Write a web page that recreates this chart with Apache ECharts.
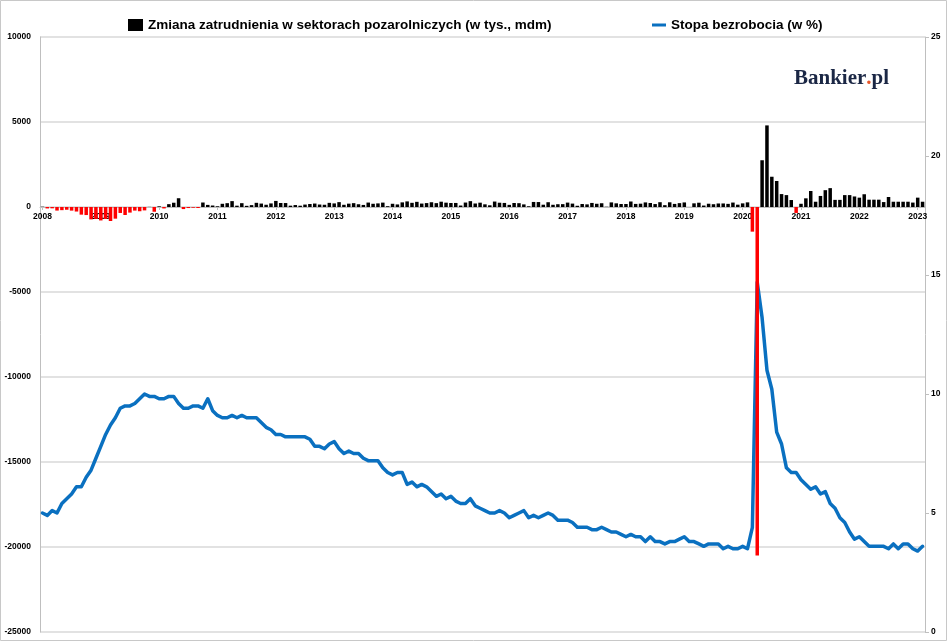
<!DOCTYPE html>
<html lang="pl">
<head>
    <meta charset="UTF-8">
    <title>Zatrudnienie i bezrobocie</title>
    <style>
        html, body { margin: 0; padding: 0; background: #fff; }
        #main { width: 948px; height: 642px; }
    </style>
</head>
<body>
<div id="main"></div>

<script src="https://cdn.jsdelivr.net/npm/echarts@6.0.0/dist/echarts.min.js"></script>
<script type="text/javascript">
  // lata na osi X (etykieta przy styczniu)
  var years = [2008, 2009, 2010, 2011, 2012, 2013, 2014, 2015, 2016, 2017, 2018, 2019, 2020, 2021, 2022, 2023];

  // zmiana zatrudnienia w sektorach pozarolniczych (tys., m/m), 2008-01 .. 2023-02
  var jobs = [
    17, -84, -78, -210, -186, -162, -213, -267, -450, -474, -729, -706,
    -791, -703, -823, -686, -351, -470, -329, -212, -250, -200, 7, -279,
    39, -85, 167, 251, 516, -122, -61, -42, -59, 264, 124, 87,
    43, 189, 225, 346, 77, 225, 69, 110, 246, 202, 132, 211,
    358, 237, 233, 78, 115, 76, 143, 177, 203, 146, 132, 244,
    211, 286, 130, 197, 226, 162, 122, 261, 190, 212, 258, 47,
    190, 151, 272, 329, 246, 304, 202, 230, 280, 227, 312, 255,
    234, 238, 86, 262, 344, 206, 254, 157, 100, 321, 252, 239,
    126, 237, 225, 153, 43, 297, 291, 135, 281, 131, 164, 168,
    259, 200, 73, 175, 155, 239, 190, 221, 14, 271, 216, 175,
    176, 324, 182, 196, 270, 235, 173, 282, 108, 277, 182, 227,
    269, 1, 215, 252, 85, 193, 164, 207, 208, 185, 261, 137,
    214, 273, -1450, -20500, 2750, 4800, 1780, 1530, 760, 700, 410, -350,
    190, 510, 940, 310, 650, 990, 1110, 420, 420, 700, 700, 620,
    550, 750, 430, 430, 430, 290, 590, 310, 310, 310, 310, 260,
    550, 310
  ];

  // stopa bezrobocia (%)
  var unemployment = [
    5.0, 4.9, 5.1, 5.0, 5.4, 5.6, 5.8, 6.1, 6.1, 6.5, 6.8, 7.3,
    7.8, 8.3, 8.7, 9.0, 9.4, 9.5, 9.5, 9.6, 9.8, 10.0, 9.9, 9.9,
    9.8, 9.8, 9.9, 9.9, 9.6, 9.4, 9.4, 9.5, 9.5, 9.4, 9.8, 9.3,
    9.1, 9.0, 9.0, 9.1, 9.0, 9.1, 9.0, 9.0, 9.0, 8.8, 8.6, 8.5,
    8.3, 8.3, 8.2, 8.2, 8.2, 8.2, 8.2, 8.1, 7.8, 7.8, 7.7, 7.9,
    8.0, 7.7, 7.5, 7.6, 7.5, 7.5, 7.3, 7.2, 7.2, 7.2, 6.9, 6.7,
    6.6, 6.7, 6.7, 6.2, 6.3, 6.1, 6.2, 6.1, 5.9, 5.7, 5.8, 5.6,
    5.7, 5.5, 5.4, 5.4, 5.6, 5.3, 5.2, 5.1, 5.0, 5.0, 5.1, 5.0,
    4.8, 4.9, 5.0, 5.1, 4.8, 4.9, 4.8, 4.9, 5.0, 4.9, 4.7, 4.7,
    4.7, 4.6, 4.4, 4.4, 4.4, 4.3, 4.3, 4.4, 4.3, 4.2, 4.2, 4.1,
    4.0, 4.1, 4.0, 4.0, 3.8, 4.0, 3.8, 3.8, 3.7, 3.8, 3.8, 3.9,
    4.0, 3.8, 3.8, 3.7, 3.6, 3.7, 3.7, 3.7, 3.5, 3.6, 3.5, 3.5,
    3.6, 3.5, 4.4, 14.7, 13.2, 11.0, 10.2, 8.4, 7.9, 6.9, 6.7, 6.7,
    6.4, 6.2, 6.0, 6.1, 5.8, 5.9, 5.4, 5.2, 4.8, 4.6, 4.2, 3.9,
    4.0, 3.8, 3.6, 3.6, 3.6, 3.6, 3.5, 3.7, 3.5, 3.7, 3.7, 3.5,
    3.4, 3.6
  ];

  // kategorie miesięczne
  var months = [];
  for (var i = 0; i < jobs.length; i++) {
    var m = i % 12 + 1;
    months.push(years[Math.floor(i / 12)] + '-' + (m < 10 ? '0' + m : m));
  }

  var jobsName = 'Zmiana zatrudnienia w sektorach pozarolniczych (w tys., mdm)';
  var rateName = 'Stopa bezrobocia (w %)';
  var gray = '#bfbfbf';
  var font = '"Liberation Sans", Arial, sans-serif';

  var isJan = function (index) { return index % 12 === 0; };
  var plain = function (v) { return String(v); };

  // wysokość siatki i położenie zera na lewej osi (oś X przecina w 0)
  var gridTop = 37, gridBottom = 10, chartH = 642;
  var yMin = -25000, yMax = 10000;
  var zeroShift = (chartH - gridTop - gridBottom) * (0 - yMin) / (yMax - yMin);

  var myChart = echarts.init(document.getElementById('main'));
  var option = {
    backgroundColor: '#fff',
    animation: false,
    textStyle: { fontFamily: font },
    legend: [
      {
        data: [{ name: jobsName, itemStyle: { color: '#000' } }],
        left: 128, top: 18, padding: 0,
        icon: 'rect', itemWidth: 15, itemHeight: 12,
        selectedMode: false,
        textStyle: { fontFamily: font, fontSize: 13.5, fontWeight: 'bold', color: '#000' }
      },
      {
        data: [{ name: rateName }],
        left: 652, top: 18, padding: 0,
        icon: 'rect', itemWidth: 14, itemHeight: 3,
        selectedMode: false,
        textStyle: { fontFamily: font, fontSize: 13.5, fontWeight: 'bold', color: '#000' }
      }
    ],
    grid: {
      left: 40, right: 23, top: gridTop, bottom: gridBottom,
      containLabel: false, outerBoundsMode: 'none'
    },
    xAxis: {
      type: 'category',
      data: months,
      position: 'bottom',
      offset: -zeroShift,
      axisLine: { onZero: false, lineStyle: { color: gray, width: 1 } },
      axisTick: { show: true, interval: isJan, alignWithLabel: true, length: 3, lineStyle: { color: gray } },
      axisLabel: {
        interval: isJan, margin: 5, hideOverlap: false,
        fontFamily: font, fontSize: 8.5, fontWeight: 'bold', color: '#000',
        formatter: function (v) { return v.slice(0, 4); }
      },
      splitLine: { show: false }
    },
    yAxis: [
      {
        type: 'value',
        min: yMin, max: yMax, interval: 5000,
        axisLine: { show: true, onZero: false, lineStyle: { color: gray, width: 1 } },
        axisTick: { show: false },
        axisLabel: { margin: 9, fontFamily: font, fontSize: 8.5, fontWeight: 'bold', color: '#000', formatter: plain },
        splitLine: { show: true, lineStyle: { color: '#d9d9d9', width: 1.5 } }
      },
      {
        type: 'value',
        min: 0, max: 25, interval: 5,
        position: 'right',
        axisLine: { show: true, onZero: false, lineStyle: { color: gray, width: 1 } },
        axisTick: { show: true, length: 4, inside: false, lineStyle: { color: gray } },
        axisLabel: { margin: 6, fontFamily: font, fontSize: 8.5, fontWeight: 'bold', color: '#000', formatter: plain },
        splitLine: { show: false }
      }
    ],
    series: [
      {
        name: rateName,
        type: 'line',
        yAxisIndex: 1,
        data: unemployment,
        showSymbol: false,
        color: '#0a70c0',
        lineStyle: { color: '#0a70c0', width: 3.5, join: 'round', cap: 'round' },
        z: 2
      },
      {
        name: jobsName,
        type: 'bar',
        yAxisIndex: 0,
        data: jobs,
        barWidth: '72%',
        itemStyle: {
          color: function (p) { return p.value < 0 ? '#ff0000' : '#000000'; }
        },
        z: 3
      }
    ],
    graphic: [
      {
        type: 'rect', silent: true, z: 0,
        shape: { x: 0.5, y: 0.5, width: 946, height: 640 },
        style: { fill: 'none', stroke: '#c8c8c8', lineWidth: 1 }
      },
      {
        type: 'text', silent: true, left: 794, top: 68,
        style: {
          text: '{b|Bankier}{d|.}{b|pl}',
          rich: {
            b: { fontFamily: '"Liberation Serif", "Times New Roman", serif', fontSize: 21, fontWeight: 'bold', fill: '#1b2745' },
            d: { fontFamily: '"Liberation Serif", "Times New Roman", serif', fontSize: 21, fontWeight: 'bold', fill: '#e8572a' }
          }
        }
      }
    ]
  };
  myChart.setOption(option);

  window.addEventListener('resize', function () {
    myChart.resize();
  });
</script>
</body>
</html>
